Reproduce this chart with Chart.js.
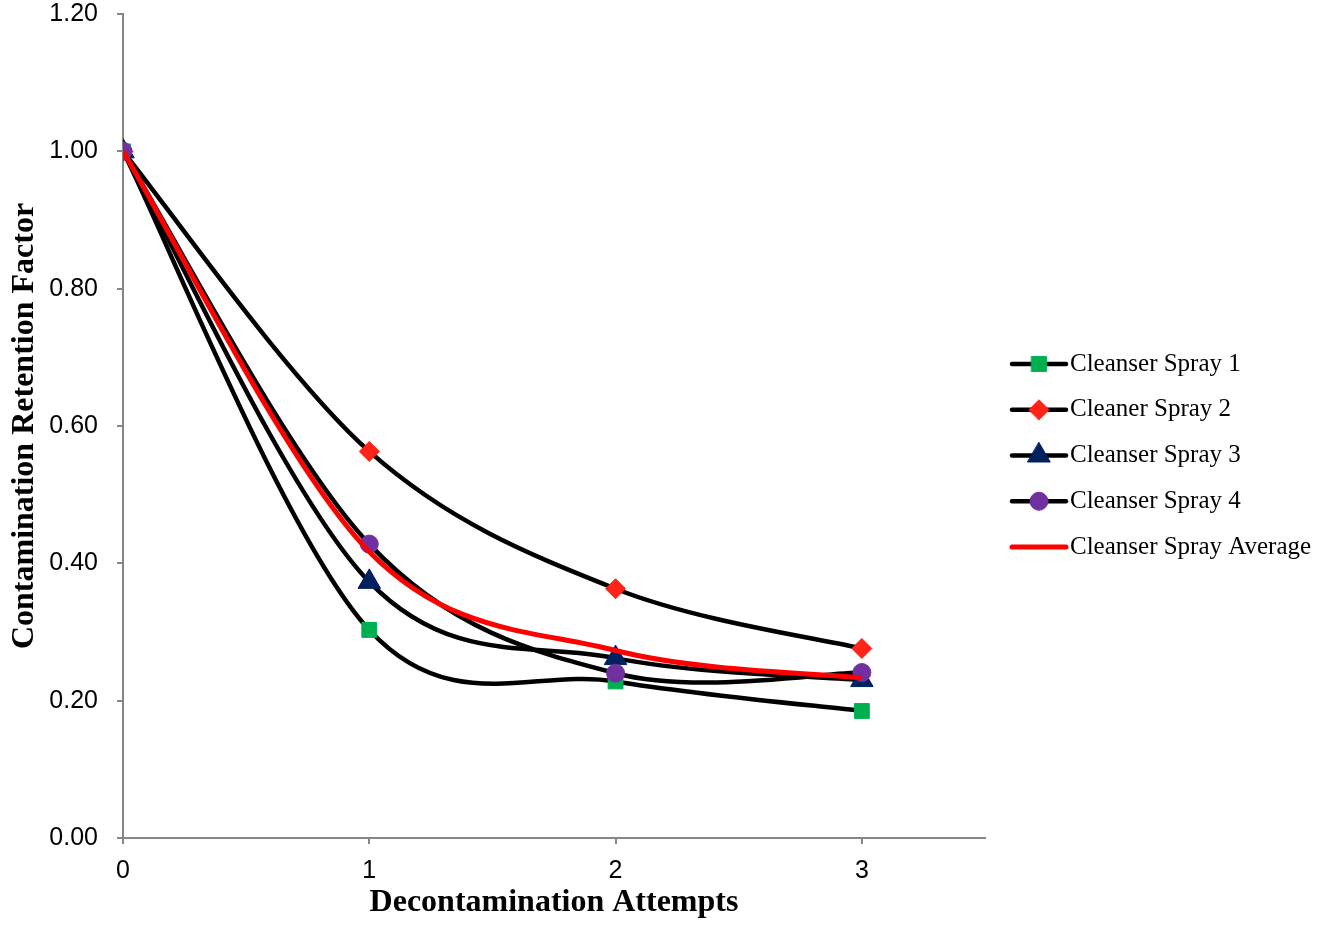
<!DOCTYPE html>
<html>
<head>
<meta charset="utf-8">
<title>Contamination Retention Factor</title>
<script src="https://cdn.jsdelivr.net/npm/chart.js"></script>
<style>
    body { margin: 0; background: #fff; }
    canvas { display: block; }
</style>
</head>
<body>
<canvas id="retentionChart" width="1321" height="930"></canvas>
<script>
// decontamination attempt number (x) and retention factor per spray (y)
const attempts = [0, 1, 2, 3];
const spray1 = [1.00, 0.303, 0.228, 0.185];
const spray2 = [1.00, 0.563, 0.363, 0.276];
const spray3 = [1.00, 0.373, 0.262, 0.230];
const spray4 = [1.00, 0.428, 0.240, 0.241];
const sprayAverage = [1.00, 0.417, 0.273, 0.233];

const seriesNames = ['Cleanser Spray 1', 'Cleaner Spray 2', 'Cleanser Spray 3', 'Cleanser Spray 4', 'Cleanser Spray Average'];
const xTicks = [0, 1, 2, 3];
const yTicks = [0, 0.2, 0.4, 0.6, 0.8, 1.0, 1.2];

function toPoints(values) {
    return attempts.map((a, i) => ({ x: a, y: values[i] }));
}

function sprayDataset(label, values, style, color, radius, order) {
    return {
        label: label,
        data: toPoints(values),
        borderColor: '#000',
        borderWidth: 4.5,
        pointStyle: style,
        pointRadius: radius,
        pointHoverRadius: radius,
        pointBackgroundColor: color,
        pointBorderColor: color,
        pointBorderWidth: 1,
        tension: 0.4,
        order: order
    };
}

// spreadsheet-style smoothing: each handle is 1/6 of the neighbour-to-neighbour vector
const spreadsheetSmoothing = {
    id: 'spreadsheetSmoothing',
    beforeDatasetDraw(chart, args) {
        const line = args.meta.dataset;
        if (!line) return;
        line.updateControlPoints(chart.chartArea, 'x');
        const pts = args.meta.data;
        pts.forEach((p, i) => {
            const prev = pts[i - 1] || p;
            const next = pts[i + 1] || p;
            const dx = (next.x - prev.x) / 6;
            const dy = (next.y - prev.y) / 6;
            p.cp1x = p.x - dx;
            p.cp1y = p.y - dy;
            p.cp2x = p.x + dx;
            p.cp2y = p.y + dy;
        });
    }
};

// custom legend: black line with the marker in the middle
const lineLegend = {
    id: 'lineLegend',
    afterDraw(chart) {
        const ctx = chart.ctx;
        const area = chart.chartArea;
        const x0 = area.right + 27;
        const x1 = x0 + 54;
        let y = 364;
        ctx.save();
        chart.data.datasets.forEach(ds => {
            ctx.strokeStyle = ds.borderColor;
            ctx.lineWidth = ds.borderWidth;
            ctx.lineCap = 'round';
            ctx.beginPath();
            ctx.moveTo(x0, y);
            ctx.lineTo(x1, y);
            ctx.stroke();
            if (ds.pointRadius > 0) {
                ctx.fillStyle = ds.pointBackgroundColor;
                ctx.strokeStyle = ds.pointBorderColor;
                ctx.lineWidth = ds.pointBorderWidth;
                Chart.helpers.drawPoint(ctx, {
                    pointStyle: ds.pointStyle,
                    radius: ds.pointRadius,
                    rotation: 0,
                    borderWidth: ds.pointBorderWidth
                }, (x0 + x1) / 2, y);
            }
            ctx.fillStyle = '#000';
            ctx.font = '25px "Liberation Serif", serif';
            ctx.textBaseline = 'middle';
            ctx.textAlign = 'left';
            ctx.fillText(ds.label, x1 + 4, y);
            y += 45.75;
        });
        ctx.restore();
    }
};

const ctx = document.getElementById('retentionChart').getContext('2d');

const retentionChart = new Chart(ctx, {
    type: 'line',
    data: {
        datasets: [
            sprayDataset(seriesNames[0], spray1, 'rect', '#00B050', 10.5, 5),
            sprayDataset(seriesNames[1], spray2, 'rectRot', '#FF2318', 10, 4),
            sprayDataset(seriesNames[2], spray3, 'triangle', '#002060', 13, 3),
            sprayDataset(seriesNames[3], spray4, 'circle', '#7030A0', 9, 2),
            {
                label: seriesNames[4],
                data: toPoints(sprayAverage),
                borderColor: '#FF0000',
                borderWidth: 5,
                pointRadius: 0,
                pointHoverRadius: 0,
                tension: 0.4,
                order: 1
            }
        ]
    },
    options: {
        responsive: false,
        animation: false,
        layout: {
            padding: { top: 13, right: 336, bottom: 0, left: 0 }
        },
        plugins: {
            legend: { display: false },
            tooltip: { enabled: false }
        },
        scales: {
            x: {
                type: 'linear',
                min: 0,
                max: 3.5,
                afterBuildTicks: scale => {
                    scale.ticks = xTicks.map(v => ({ value: v }));
                },
                afterFit: scale => {
                    scale.height = 92;
                    scale.paddingLeft = 0;
                    scale.paddingRight = 0;
                },
                grid: {
                    drawOnChartArea: false,
                    drawTicks: true,
                    tickLength: 6,
                    color: '#868686',
                    lineWidth: 2
                },
                border: { color: '#868686', width: 2 },
                ticks: {
                    padding: 12,
                    color: '#000',
                    font: { family: '"Liberation Sans", sans-serif', size: 25 },
                    callback: v => String(v)
                },
                title: {
                    display: true,
                    text: 'Decontamination Attempts',
                    color: '#000',
                    padding: { top: 0, bottom: 8 },
                    font: { family: '"Liberation Serif", serif', size: 32, weight: 'bold' }
                }
            },
            y: {
                min: 0,
                max: 1.2,
                afterBuildTicks: scale => {
                    scale.ticks = yTicks.map(v => ({ value: v }));
                },
                afterFit: scale => {
                    scale.width = 123;
                    scale.paddingTop = 0;
                    scale.paddingBottom = 0;
                },
                grid: {
                    drawOnChartArea: false,
                    drawTicks: true,
                    tickLength: 6,
                    color: '#868686',
                    lineWidth: 2
                },
                border: { color: '#868686', width: 2 },
                ticks: {
                    padding: 19,
                    color: '#000',
                    font: { family: '"Liberation Sans", sans-serif', size: 25 },
                    callback: v => Number(v).toFixed(2)
                },
                title: {
                    display: true,
                    text: 'Contamination Retention Factor',
                    color: '#000',
                    padding: { top: 6, bottom: 0 },
                    font: { family: '"Liberation Serif", serif', size: 32, weight: 'bold' }
                }
            }
        }
    },
    plugins: [spreadsheetSmoothing, lineLegend]
});
</script>
</body>
</html>
